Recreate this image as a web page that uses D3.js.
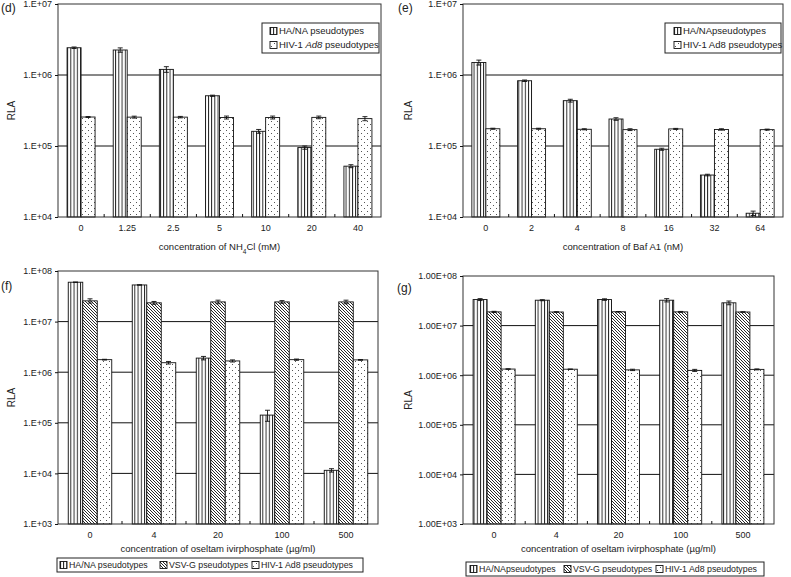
<!DOCTYPE html>
<html>
<head>
<meta charset="utf-8">
<script src="https://cdnjs.cloudflare.com/ajax/libs/d3/7.8.5/d3.min.js"></script>
<style>
  body { margin: 0; background: #fff; }
  svg { display: block; font-family: "Liberation Sans", Arial, sans-serif; }
  .tick-label { font-size: 9px; fill: #222; }
</style>
</head>
<body>
<div id="chart"></div>
<script>
// ---- data ----
var seriesTwo = ["HA", "HIV"];
var seriesThree = ["HA", "VSV", "HIV"];

// (d) NH4Cl
var catsD = ["0", "1.25", "2.5", "5", "10", "20", "40"];
var haD = [2.42e6, 2.25e6, 1.2e6, 5.1e5, 1.61e5, 9.5e4, 5.2e4];
var haErrD = [6e4, 1.6e5, 1.1e5, 1e4, 1e4, 5e3, 2.5e3];
var hivD = [2.56e5, 2.55e5, 2.55e5, 2.52e5, 2.52e5, 2.53e5, 2.43e5];
var hivErrD = [4e3, 8e3, 6e3, 1.2e4, 1.2e4, 1.1e4, 1.6e4];

// (e) Baf A1
var catsE = ["0", "2", "4", "8", "16", "32", "64"];
var haE = [1.5e6, 8.3e5, 4.35e5, 2.4e5, 9.0e4, 3.9e4, 1.13e4];
var haErrE = [1.2e5, 2e4, 2e4, 1e4, 3e3, 1e3, 8e2];
var hivE = [1.75e5, 1.75e5, 1.72e5, 1.7e5, 1.74e5, 1.71e5, 1.7e5];
var hivErrE = [3e3, 3e3, 3e3, 5e3, 3e3, 4e3, 3e3];

// (f) oseltamivir, panel f
var catsF = ["0", "4", "20", "100", "500"];
var haF = [6.0e7, 5.3e7, 1.9e6, 1.42e5, 1.15e4];
var haErrF = [5e5, 5e5, 1.5e5, 3.5e4, 9e2];
var vsvF = [2.57e7, 2.35e7, 2.45e7, 2.45e7, 2.45e7];
var vsvErrF = [2.5e6, 1.5e6, 2e6, 1.5e6, 2e6];
var hivF = [1.77e6, 1.54e6, 1.67e6, 1.77e6, 1.75e6];
var hivErrF = [3e4, 9e4, 8e4, 5e4, 3e4];

// (g) oseltamivir, panel g
var catsG = ["0", "4", "20", "100", "500"];
var haG = [3.35e7, 3.25e7, 3.35e7, 3.25e7, 2.88e7];
var haErrG = [1.5e6, 8e5, 1.2e6, 2.5e6, 2.5e6];
var vsvG = [1.89e7, 1.88e7, 1.9e7, 1.89e7, 1.88e7];
var vsvErrG = [5e5, 2e5, 2e5, 4e5, 2e5];
var hivG = [1.33e6, 1.32e6, 1.28e6, 1.25e6, 1.31e6];
var hivErrG = [2e4, 1e4, 4e4, 6e4, 3e4];

var ticksDE = [1e4, 1e5, 1e6, 1e7];
var ticksFG = [1e3, 1e4, 1e5, 1e6, 1e7, 1e8];

var legendNames = {
  "HA": "HA/NA pseudotypes",
  "VSV": "VSV-G pseudotypes",
  "HIV": "HIV-1 Ad8 pseudotypes"
};

// ---- svg + patterns ----
var W = 791, H = 577;
var svg = d3.select("#chart").append("svg")
    .attr("width", W)
    .attr("height", H);

var defs = svg.append("defs");

var pv = defs.append("pattern")
    .attr("id", "pat-HA")
    .attr("patternUnits", "userSpaceOnUse")
    .attr("width", 3.2).attr("height", 4);
pv.append("rect").attr("width", 3.2).attr("height", 4).attr("fill", "#fff");
pv.append("rect").attr("x", 0).attr("width", 0.9).attr("height", 4).attr("fill", "#111");

var pd = defs.append("pattern")
    .attr("id", "pat-VSV")
    .attr("patternUnits", "userSpaceOnUse")
    .attr("width", 3).attr("height", 3);
pd.append("rect").attr("width", 3).attr("height", 3).attr("fill", "#fff");
pd.append("path")
    .attr("d", "M-1,-1 L4,4 M-1,2 L1,4 M2,-1 L4,1")
    .attr("stroke", "#111").attr("stroke-width", 0.9);

var pdot = defs.append("pattern")
    .attr("id", "pat-HIV")
    .attr("patternUnits", "userSpaceOnUse")
    .attr("width", 6).attr("height", 6);
pdot.append("rect").attr("width", 6).attr("height", 6).attr("fill", "#fff");
pdot.append("rect").attr("x", 1).attr("y", 1).attr("width", 1).attr("height", 1).attr("fill", "#555");
pdot.append("rect").attr("x", 4).attr("y", 4).attr("width", 1).attr("height", 1).attr("fill", "#555");

function fmtShort(v) { return "1.E+" + d3.format("02d")(Math.round(Math.log10(v))); }
function fmtLong(v) { return "1.00E+" + d3.format("02d")(Math.round(Math.log10(v))); }

function drawPanel(p) {
    var g = svg.append("g");

    var x = d3.scaleBand()
        .domain(p.cats)
        .range([p.left, p.right]);

    var y = d3.scaleLog()
        .domain([p.ticks[0], p.ticks[p.ticks.length - 1]])
        .range([p.bottom, p.top]);

    var groupW = p.barW * p.series.length;
    var x1 = d3.scaleBand()
        .domain(p.series)
        .range([0, groupW]);

    // gridlines
    g.selectAll(".grid")
        .data(p.ticks.slice(1, -1))
        .enter()
        .append("line")
        .attr("x1", p.left).attr("x2", p.right)
        .attr("y1", function(d){ return y(d); })
        .attr("y2", function(d){ return y(d); })
        .attr("stroke", "#111")
        .attr("stroke-width", 1);

    // bars
    var rows = [];
    p.cats.forEach(function(c, i){
        p.series.forEach(function(s){
            rows.push({cat: c, s: s, v: p.values[s][i], e: p.errors[s][i]});
        });
    });

    var bx = function(d){ return x(d.cat) + x.bandwidth() / 2 - groupW / 2 + x1(d.s); };

    g.selectAll(".bar")
        .data(rows)
        .enter()
        .append("rect")
        .attr("x", bx)
        .attr("y", function(d){ return y(d.v); })
        .attr("width", x1.bandwidth())
        .attr("height", function(d){ return p.bottom - y(d.v); })
        .attr("fill", function(d){ return "url(#pat-" + d.s + ")"; })
        .attr("stroke", "#111")
        .attr("stroke-width", 0.9);

    // error bars
    var eb = g.selectAll(".err")
        .data(rows)
        .enter()
        .append("g");
    eb.append("line")
        .attr("x1", function(d){ return bx(d) + x1.bandwidth() / 2; })
        .attr("x2", function(d){ return bx(d) + x1.bandwidth() / 2; })
        .attr("y1", function(d){ return y(d.v + d.e); })
        .attr("y2", function(d){ return y(Math.max(d.v - d.e, p.ticks[0])); })
        .attr("stroke", "#111").attr("stroke-width", 0.9);
    eb.append("line")
        .attr("x1", function(d){ return bx(d) + x1.bandwidth() / 2 - 2.5; })
        .attr("x2", function(d){ return bx(d) + x1.bandwidth() / 2 + 2.5; })
        .attr("y1", function(d){ return y(d.v + d.e); })
        .attr("y2", function(d){ return y(d.v + d.e); })
        .attr("stroke", "#111").attr("stroke-width", 0.9);
    eb.append("line")
        .attr("x1", function(d){ return bx(d) + x1.bandwidth() / 2 - 2.5; })
        .attr("x2", function(d){ return bx(d) + x1.bandwidth() / 2 + 2.5; })
        .attr("y1", function(d){ return y(d.v - d.e); })
        .attr("y2", function(d){ return y(d.v - d.e); })
        .attr("stroke", "#111").attr("stroke-width", 0.9);

    // frame
    g.append("rect")
        .attr("x", p.left).attr("y", p.top)
        .attr("width", p.right - p.left)
        .attr("height", p.bottom - p.top)
        .attr("fill", "none")
        .attr("stroke", "#333")
        .attr("stroke-width", 1);

    // y axis
    var yAxis = d3.axisLeft(y)
        .tickValues(p.ticks)
        .tickSize(3)
        .tickFormat(p.fmt);
    var ya = g.append("g")
        .attr("transform", "translate(" + p.left + ",0)")
        .call(yAxis);
    ya.select(".domain").remove();
    ya.selectAll(".tick line").attr("stroke", "#111");
    ya.selectAll(".tick text")
        .attr("class", "tick-label")
        .attr("font-size", null).attr("font-family", null)
        .attr("fill", "#222");

    // x axis: labels + inward ticks at band boundaries
    var xAxis = d3.axisBottom(x).tickSize(0).tickPadding(8);
    var xa = g.append("g")
        .attr("transform", "translate(0," + p.bottom + ")")
        .call(xAxis);
    xa.select(".domain").remove();
    xa.selectAll(".tick text")
        .attr("class", "tick-label")
        .attr("font-size", null).attr("font-family", null)
        .attr("fill", "#222");

    g.selectAll(".xt")
        .data(p.cats.slice(1))
        .enter()
        .append("line")
        .attr("x1", function(d){ return x(d); })
        .attr("x2", function(d){ return x(d); })
        .attr("y1", p.bottom).attr("y2", p.bottom - 3)
        .attr("stroke", "#111");

    // RLA label
    g.append("text")
        .attr("transform", "translate(" + p.rlaX + "," + ((p.top + p.bottom) / 2) + ")rotate(-90)")
        .attr("text-anchor", "middle")
        .attr("font-size", "10px")
        .attr("fill", "#222")
        .text("RLA");

    // x title
    var xt = g.append("text")
        .attr("x", (p.left + p.right) / 2)
        .attr("y", p.titleY)
        .attr("text-anchor", "middle")
        .attr("font-size", "9.5px")
        .attr("fill", "#222");
    p.title.forEach(function(part){
        var ts = xt.append("tspan").text(part.t);
        if (part.sub) ts.attr("baseline-shift", "sub").attr("font-size", "6.5px");
    });

    // panel tag
    g.append("text")
        .attr("x", p.tagX).attr("y", p.tagY)
        .attr("font-size", "12px")
        .attr("fill", "#222")
        .text(p.tag);

    // legend
    var L = p.legend;
    g.append("rect")
        .attr("x", L.x).attr("y", L.y)
        .attr("width", L.w).attr("height", L.h)
        .attr("fill", "#fff")
        .attr("stroke", "#222").attr("stroke-width", 1);
    var items = g.selectAll(".legitem")
        .data(p.series)
        .enter()
        .append("g")
        .attr("transform", function(d, i){ return "translate(" + L.pos[i][0] + "," + L.pos[i][1] + ")"; });
    items.append("rect")
        .attr("x", 0).attr("y", -3.5)
        .attr("width", 7).attr("height", 7)
        .attr("fill", function(d){ return "url(#pat-" + d + ")"; })
        .attr("stroke", "#111").attr("stroke-width", 0.9);
    items.append("text")
        .attr("x", 9).attr("y", 3.3)
        .attr("font-size", L.fontSize)
        .attr("fill", "#222")
        .each(function(d){
            var t = d3.select(this);
            var name = L.names[d];
            if (d === "HIV" && L.italicAd8) {
                t.append("tspan").text("HIV-1 ");
                t.append("tspan").attr("font-style", "italic").text("Ad8");
                t.append("tspan").text(" pseudotypes");
            } else {
                t.text(name);
            }
        });
}

drawPanel({
    tag: "(d)", tagX: 1, tagY: 12,
    cats: catsD, series: seriesTwo,
    values: {HA: haD, HIV: hivD}, errors: {HA: haErrD, HIV: hivErrD},
    left: 58, right: 381, top: 4, bottom: 217,
    barW: 14, ticks: ticksDE, fmt: fmtShort, rlaX: 15,
    titleY: 250,
    title: [{t: "concentration of NH"}, {t: "4", sub: true}, {t: "Cl (mM)"}],
    legend: {x: 262, y: 23, w: 117, h: 30, pos: [[270, 31], [270, 45]], italicAd8: true,
             fontSize: "9.5px", names: legendNames}
});

drawPanel({
    tag: "(e)", tagX: 398, tagY: 12,
    cats: catsE, series: seriesTwo,
    values: {HA: haE, HIV: hivE}, errors: {HA: haErrE, HIV: hivErrE},
    left: 463, right: 783, top: 4, bottom: 217,
    barW: 14, ticks: ticksDE, fmt: fmtShort, rlaX: 412,
    titleY: 250,
    title: [{t: "concentration of Baf A1 (nM)"}],
    legend: {x: 665, y: 23, w: 116, h: 30, pos: [[674, 31], [674, 45]], italicAd8: false,
             fontSize: "9.5px", names: {"HA": "HA/NApseudotypes", "HIV": "HIV-1 Ad8 pseudotypes"}}
});

drawPanel({
    tag: "(f)", tagX: 1, tagY: 290,
    cats: catsF, series: seriesThree,
    values: {HA: haF, VSV: vsvF, HIV: hivF}, errors: {HA: haErrF, VSV: vsvErrF, HIV: hivErrF},
    left: 58, right: 378, top: 271, bottom: 524,
    barW: 14.5, ticks: ticksFG, fmt: fmtShort, rlaX: 15,
    titleY: 552,
    title: [{t: "concentration of oseltam ivirphosphate (\u00b5g/ml)"}],
    legend: {x: 57, y: 558, w: 306, h: 14, pos: [[60, 565], [160, 565], [252, 565]], italicAd8: false,
             fontSize: "8.8px", names: legendNames}
});

drawPanel({
    tag: "(g)", tagX: 397, tagY: 292,
    cats: catsG, series: seriesThree,
    values: {HA: haG, VSV: vsvG, HIV: hivG}, errors: {HA: haErrG, VSV: vsvErrG, HIV: hivErrG},
    left: 463, right: 774, top: 276, bottom: 524,
    barW: 14, ticks: ticksFG, fmt: fmtLong, rlaX: 412,
    titleY: 552,
    title: [{t: "concentration of oseltam ivirphosphate (\u00b5g/ml)"}],
    legend: {x: 466, y: 562, w: 298, h: 14, pos: [[470, 569], [564, 569], [656, 569]], italicAd8: false,
             fontSize: "8.8px", names: {"HA": "HA/NApseudotypes", "VSV": "VSV-G pseudotypes", "HIV": "HIV-1 Ad8 pseudotypes"}}
});
</script>
</body>
</html>
